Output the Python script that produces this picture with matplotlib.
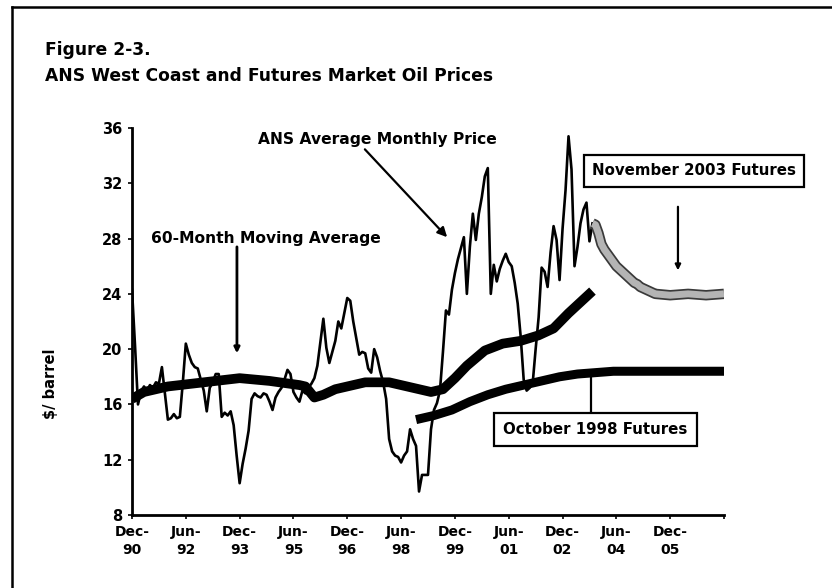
import matplotlib
matplotlib.use("Agg")
import matplotlib.pyplot as plt
from matplotlib import patheffects as pe
from matplotlib.lines import Line2D

# months counted from Dec-1990 (0) on the x axis
ans_price = [
    24.3, 20.3, 16.0, 16.9, 17.3, 17.0, 17.4, 17.2, 17.6, 17.5,
    18.7, 16.8, 14.9, 15.0, 15.3, 15.0, 15.1, 17.6, 20.4, 19.6,
    19.0, 18.7, 18.6, 17.8, 17.0, 15.5, 17.2, 17.6, 18.2, 18.2,
    15.1, 15.4, 15.2, 15.5, 14.5, 12.3, 10.3, 11.7, 12.8, 14.1,
    16.4, 16.8, 16.6, 16.5, 16.8, 16.7, 16.2, 15.6, 16.5, 16.9,
    17.2, 17.8, 18.5, 18.2, 16.9, 16.5, 16.2, 17.0, 16.8, 17.2,
    17.5, 17.9, 18.8, 20.5, 22.2, 20.1, 19.0, 19.8, 20.6, 22.0,
    21.5, 22.6, 23.7, 23.5, 22.0, 20.8, 19.6, 19.8, 19.7, 18.6,
    18.3, 20.0, 19.4, 18.4, 17.6, 16.4, 13.5, 12.6, 12.3, 12.2,
    11.8, 12.3, 12.6, 14.2, 13.5, 13.0, 9.7, 10.9, 10.9, 10.9,
    14.2, 15.6, 16.1, 17.0, 19.8, 22.8, 22.5, 24.3, 25.5, 26.5,
    27.3, 28.1, 24.0, 27.4, 29.8, 27.9, 29.8, 31.0, 32.5, 33.1,
    24.0, 26.1, 24.9, 25.8, 26.4, 26.9, 26.3, 26.0, 24.8, 23.3,
    20.9, 17.8, 17.0, 17.2, 17.5, 20.0, 22.3, 25.9, 25.6, 24.5,
    27.0, 28.9, 27.9, 25.0, 28.7, 31.5, 35.4, 33.0, 26.0, 27.4,
    29.1, 30.1, 30.6, 27.8, 29.1,
]

ma_months = [0, 4, 12, 24, 36, 46, 56, 58, 61, 64, 68, 78, 86, 94, 100,
             104, 108, 112, 118, 124, 130, 136, 141, 146, 150, 154]
ma_values = [16.4, 16.9, 17.3, 17.6, 17.9, 17.7, 17.4, 17.3, 16.5, 16.7,
             17.1, 17.6, 17.6, 17.2, 16.9, 17.1, 17.9, 18.8, 19.9, 20.4,
             20.6, 21.0, 21.5, 22.6, 23.4, 24.2]

oct98_months = [95, 101, 107, 113, 119, 125, 131, 137, 143, 149, 155,
                161, 167, 173, 179, 185, 191, 198]
oct98_values = [14.9, 15.2, 15.6, 16.2, 16.7, 17.1, 17.4, 17.7, 18.0, 18.2,
                18.3, 18.4, 18.4, 18.4, 18.4, 18.4, 18.4, 18.4]

nov03_months = [154, 155, 156, 157, 158, 159, 160, 161, 162, 163, 164, 165,
                166, 167, 168, 169, 170, 171, 172, 173, 174, 175, 180, 186,
                192, 198]
nov03_values = [29.1, 29.0, 28.4, 27.6, 27.2, 26.9, 26.6, 26.3, 26.0, 25.8,
                25.6, 25.4, 25.2, 25.0, 24.8, 24.7, 24.5, 24.4, 24.3, 24.2,
                24.1, 24.0, 23.9, 24.0, 23.9, 24.0]

tick_months = [0, 18, 36, 54, 72, 90, 108, 126, 144, 162, 180, 198]
tick_labels = ["Dec-\n90", "Jun-\n92", "Dec-\n93", "Jun-\n95", "Dec-\n96",
               "Jun-\n98", "Dec-\n99", "Jun-\n01", "Dec-\n02", "Jun-\n04",
               "Dec-\n05", ""]

W, H = 832, 588
fig = plt.figure(figsize=(W / 100, H / 100), dpi=100)
fig.patch.set_facecolor("white")


def fx(x):
    return x / W


def fy(y):
    return 1 - y / H


ax = fig.add_axes([fx(132), fy(515), (724 - 132) / W, (515 - 128) / H])

ax.plot(ma_months, ma_values, color="black", lw=7, solid_capstyle="butt", zorder=2)
ax.plot(oct98_months, oct98_values, color="black", lw=6.5, solid_capstyle="butt", zorder=2)
ax.plot(range(len(ans_price)), ans_price, color="black", lw=1.9, zorder=3)
ax.plot(nov03_months, nov03_values, color="#b4b4b4", lw=5, solid_capstyle="butt", zorder=4,
        path_effects=[pe.Stroke(linewidth=7.5, foreground="#3a3a3a"), pe.Normal()])

ax.set_xlim(0, 198)
ax.set_ylim(8, 36)
ax.set_yticks(range(8, 37, 4))
ax.set_xticks(tick_months)
ax.set_xticklabels(tick_labels, fontsize=10, fontweight="bold", linespacing=1.35)
ax.tick_params(axis="y", labelsize=10.5, length=3, width=1.2, pad=4)
ax.tick_params(axis="x", length=3, width=1.2, pad=4)
for lab in ax.get_yticklabels():
    lab.set_fontweight("bold")
for side in ["top", "right"]:
    ax.spines[side].set_visible(False)
for side in ["left", "bottom"]:
    ax.spines[side].set_linewidth(2)

# annotations
ax.annotate("ANS Average Monthly Price", xy=(105.4, 28.1), xytext=(82, 35.2),
            ha="center", va="center", fontsize=11.2, fontweight="bold",
            arrowprops=dict(arrowstyle="-|>", color="black", lw=1.6,
                            mutation_scale=14, shrinkA=0, shrinkB=0,
                            relpos=(0.42, 0.3)))
ax.text(44.8, 28.0, "60-Month Moving Average", ha="center", va="center",
        fontsize=11.2, fontweight="bold")
ax.annotate("", xy=(35.1, 19.7), xytext=(35.1, 27.4),
            arrowprops=dict(arrowstyle="-|>", color="black", lw=2,
                            mutation_scale=8, shrinkA=0, shrinkB=0))
ax.text(188, 32.9, "November 2003 Futures", ha="center", va="center",
        fontsize=10.8, fontweight="bold",
        bbox=dict(boxstyle="square,pad=0.55", fc="white", ec="black", lw=1.6))
ax.annotate("", xy=(182.6, 25.7), xytext=(182.6, 30.3),
            arrowprops=dict(arrowstyle="-|>", color="black", lw=1.6,
                            mutation_scale=8, shrinkA=0, shrinkB=0))
ax.text(155, 14.15, "October 1998 Futures", ha="center", va="center",
        fontsize=10.8, fontweight="bold",
        bbox=dict(boxstyle="square,pad=0.6", fc="white", ec="black", lw=1.6))
ax.plot([153.5, 153.5], [15.5, 18.3], color="black", lw=1.6, zorder=1)

# titles and axis label
fig.text(fx(45), fy(50), "Figure 2-3.", fontsize=12.3, fontweight="bold",
         va="center", ha="left")
fig.text(fx(45), fy(76), "ANS West Coast and Futures Market Oil Prices",
         fontsize=12.3, fontweight="bold", va="center", ha="left")
fig.text(fx(50), fy(384), "$/ barrel", rotation=90, fontsize=10.5,
         fontweight="bold", va="center", ha="center")

# page frame from the scanned document
fig.add_artist(Line2D([fx(12), 1.0], [fy(7), fy(7)], color="black", lw=1.8))
fig.add_artist(Line2D([fx(12), fx(12)], [fy(7), 0.0], color="black", lw=1.8))

fig.savefig("out.png", dpi=100, facecolor="white")
